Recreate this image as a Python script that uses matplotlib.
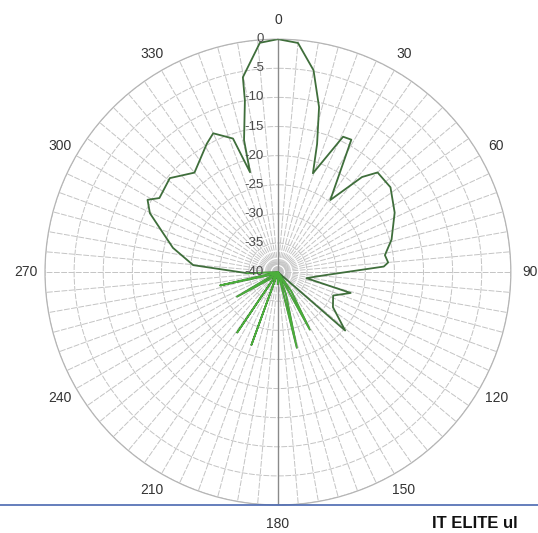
import matplotlib.pyplot as plt
import numpy as np

plt.rcParams['font.family'] = ['Liberation Sans', 'DejaVu Sans']

# Radiation pattern (clockwise angle in degrees, gain in dB)
angle_deg = [0, 5, 10, 14, 17, 19.5, 25.7, 29, 36, 41.5, 45, 53, 63, 74, 81, 85,
             87, 90, 93.6, 102, 106, 113, 122.5, 131, 137, 145, 151, 154, 160,
             166, 170, 180, 190, 200, 204, 214, 219, 230, 239, 244, 252, 257,
             261, 268, 274.7, 283, 288.7, 294.7, 299, 302, 311, 320, 331, 335,
             341.4, 344.4, 345.6, 349.1, 349.8, 355.5, 360]
gain_db = [0, -0.5, -4.8, -10.8, -17, -22, -14.2, -14, -24.7, -18.2, -15.8,
           -15.8, -17.5, -19.7, -21.4, -21, -21.8, -28.3, -31.8, -35, -27,
           -29.7, -28.8, -24.7, -40, -36, -28.7, -40, -36, -26.6, -40, -38,
           -40, -26.7, -40, -27.5, -40, -38, -31.8, -40, -38, -29.8, -40,
           -34.7, -25.4, -21.5, -19.2, -15.8, -14.4, -16, -15.4, -17.7, -14.8,
           -13.7, -15.8, -22.2, -16.6, -10, -6, -0.5, 0]

ring_db = [0, -5, -10, -15, -20, -25, -30, -35, -40]
angle_labels = [0, 30, 60, 90, 120, 150, 180, 210, 240, 270, 300, 330]

theta = np.deg2rad(angle_deg)
gain = np.array(gain_db)

fig = plt.figure(figsize=(5.38, 5.33), dpi=100)
ax = fig.add_axes([0.0836, 0.0525, 0.866, 0.874], projection='polar')
ax.set_theta_zero_location('N')
ax.set_theta_direction(-1)
ax.set_ylim(-40, 0)

# grid: spokes every 5 degrees, rings every 5 dB
ax.set_xticks(np.deg2rad(np.arange(0, 360, 5)))
ax.set_xticklabels([])
ax.set_yticks(ring_db)
ax.set_yticklabels([])
ax.grid(True, color='#c4c4c4', linewidth=0.7, linestyle=(0, (6, 1.5)))
ax.spines['polar'].set_color('#b5b5b5')
ax.spines['polar'].set_linewidth(0.9)
ax.plot([0, 0], [-40, 0], color='#8a8a8a', linewidth=1.0, zorder=2)
ax.plot([np.pi, np.pi], [-40, 0], color='#8a8a8a', linewidth=1.0, zorder=2)

# pattern
ax.plot(theta, gain, color='#3f6e3b', linewidth=1.3, zorder=4)
low = (gain < -26) & (np.array(angle_deg) > 130) & (np.array(angle_deg) < 270)
ax.plot(theta, np.where(low | (gain <= -34), gain, np.nan), color='#4fbf3c',
        linewidth=1.0, alpha=0.8, zorder=5)

# ring labels next to the vertical axis
for r in ring_db:
    ax.annotate(str(r), xy=(0, r), xytext=(-10, 0), textcoords='offset points',
                ha='right', va='center', fontsize=9.5, color='#4a4a4a', zorder=6)

# angle labels outside the circle
for a in angle_labels:
    ax.text(np.deg2rad(a), 3.3, str(a), ha='center', va='center',
            fontsize=10, color='#333333')

# blue rule and caption at the bottom
fig.add_artist(plt.Line2D([0, 1], [0.0525, 0.0525], color='#4a68b0',
                          linewidth=1.2))
fig.text(0.803, 0.031, 'IT ELITE ul', ha='left', va='top', fontsize=12,
         fontweight='bold', color='#111111')

fig.savefig('out.png', dpi=100)
